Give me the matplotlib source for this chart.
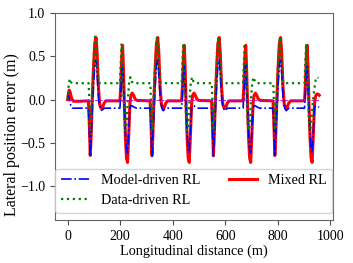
import matplotlib
matplotlib.use("Agg")
import matplotlib.pyplot as plt

plt.rcParams['font.family'] = ['Liberation Serif', 'DejaVu Serif']

# Model-driven RL
model_x = [0, 3, 7, 12, 18, 45,
           79, 82, 86, 89, 94, 99, 104, 108, 112, 118, 124, 129, 134, 140,
           199, 202, 206, 209, 212, 216, 220, 224, 228, 232, 237, 241, 247, 254, 262,
           314, 317, 321, 324, 329, 334, 339, 343, 347, 353, 359, 364, 369, 375,
           434, 437, 441, 444, 447, 451, 455, 459, 463, 467, 472, 476, 482, 489, 497,
           548, 551, 555, 558, 563, 568, 573, 577, 581, 587, 593, 598, 603, 609,
           668, 671, 675, 678, 681, 685, 689, 693, 697, 701, 706, 710, 716, 723, 731,
           782, 785, 789, 792, 797, 802, 807, 811, 815, 821, 827, 832, 837, 843,
           902, 905, 909, 912, 915, 919, 923, 927, 931, 935, 940, 944, 950, 958]
model_y = [0.0, 0.05, 0.0, -0.07, -0.1, -0.1,
           -0.1, -0.3, -0.66, -0.45, -0.1, 0.2, 0.42, 0.46, 0.3, 0.0, -0.1, -0.125, -0.115, -0.1,
           -0.1, 0.05, 0.35, 0.4, 0.2, -0.1, -0.4, -0.58, -0.62, -0.4, -0.1, -0.07, -0.075, -0.09, -0.1,
           -0.1, -0.3, -0.66, -0.45, -0.1, 0.2, 0.42, 0.46, 0.3, 0.0, -0.1, -0.13, -0.115, -0.1,
           -0.1, 0.05, 0.35, 0.4, 0.2, -0.1, -0.4, -0.58, -0.62, -0.4, -0.1, -0.07, -0.075, -0.09, -0.1,
           -0.1, -0.3, -0.66, -0.45, -0.1, 0.2, 0.42, 0.46, 0.3, 0.0, -0.1, -0.13, -0.115, -0.1,
           -0.1, 0.05, 0.35, 0.4, 0.2, -0.1, -0.4, -0.58, -0.62, -0.4, -0.1, -0.07, -0.075, -0.09, -0.1,
           -0.1, -0.3, -0.66, -0.45, -0.1, 0.2, 0.42, 0.46, 0.3, 0.0, -0.1, -0.13, -0.115, -0.1,
           -0.1, 0.05, 0.35, 0.4, 0.2, -0.1, -0.4, -0.58, -0.62, -0.4, -0.1, -0.07, -0.08, -0.09]

# Data-driven RL
data_x = [0, 4, 8, 13, 18, 45,
          80, 82, 84, 86, 89, 94, 100, 105, 108, 112, 117, 121,
          199, 201, 205, 208, 212, 216, 219, 224, 229, 234, 239, 244, 249,
          315, 317, 319, 321, 324, 329, 335, 340, 343, 347, 352, 356,
          434, 436, 440, 443, 447, 451, 454, 459, 464, 469, 474, 479, 484,
          549, 551, 553, 555, 558, 563, 569, 574, 577, 581, 586, 590,
          668, 670, 674, 677, 681, 685, 688, 693, 698, 703, 708, 713, 718,
          783, 785, 787, 789, 792, 797, 803, 808, 811, 815, 820, 824,
          902, 904, 908, 911, 915, 919, 922, 927, 933, 939, 945, 950, 955]
data_y = [0.0, 0.18, 0.24, 0.2, 0.19, 0.19,
          0.19, 0.0, -0.25, -0.36, -0.2, 0.15, 0.5, 0.73, 0.7, 0.45, 0.22, 0.19,
          0.19, 0.35, 0.65, 0.5, 0.1, -0.25, -0.36, -0.3, 0.0, 0.2, 0.26, 0.21, 0.19,
          0.19, 0.0, -0.25, -0.36, -0.2, 0.15, 0.5, 0.73, 0.7, 0.45, 0.22, 0.19,
          0.19, 0.35, 0.65, 0.5, 0.1, -0.25, -0.36, -0.3, 0.0, 0.2, 0.26, 0.21, 0.19,
          0.19, 0.0, -0.25, -0.36, -0.2, 0.15, 0.5, 0.73, 0.7, 0.45, 0.22, 0.19,
          0.19, 0.35, 0.65, 0.5, 0.1, -0.25, -0.36, -0.3, 0.0, 0.2, 0.26, 0.21, 0.19,
          0.19, 0.0, -0.25, -0.36, -0.2, 0.15, 0.5, 0.73, 0.7, 0.45, 0.22, 0.19,
          0.19, 0.35, 0.65, 0.5, 0.1, -0.25, -0.36, -0.3, -0.05, 0.12, 0.24, 0.26, 0.25]

# Mixed RL
mixed_x = [0, 3, 6, 10, 15, 22, 45,
           79, 82, 86, 89, 93, 98, 103, 108, 112, 117, 122, 128, 133, 139, 146,
           199, 202, 206, 209, 212, 216, 220, 224, 228, 232, 237, 241, 246, 251, 257, 264,
           314, 317, 321, 324, 328, 333, 338, 343, 347, 352, 357, 363, 368, 374, 381,
           434, 437, 441, 444, 447, 451, 455, 459, 463, 467, 472, 476, 481, 486, 492, 499,
           548, 551, 555, 558, 562, 567, 572, 577, 581, 586, 591, 597, 602, 608, 615,
           668, 671, 675, 678, 681, 685, 689, 693, 697, 701, 706, 710, 715, 720, 726, 733,
           782, 785, 789, 792, 796, 801, 806, 811, 815, 820, 825, 831, 836, 842, 849,
           902, 905, 909, 912, 915, 919, 923, 927, 931, 935, 940, 944, 949, 955, 958]
mixed_y = [0.0, 0.07, 0.11, 0.08, 0.01, -0.02, -0.02,
           -0.015, -0.25, -0.65, -0.45, -0.05, 0.35, 0.65, 0.72, 0.55, 0.15, -0.06, -0.105, -0.09, -0.04, -0.015,
           -0.015, 0.15, 0.5, 0.63, 0.4, -0.05, -0.45, -0.68, -0.73, -0.45, -0.05, 0.05, 0.075, 0.05, 0.005, -0.01,
           -0.015, -0.25, -0.65, -0.45, -0.05, 0.35, 0.65, 0.72, 0.55, 0.15, -0.06, -0.11, -0.09, -0.04, -0.015,
           -0.015, 0.15, 0.5, 0.63, 0.4, -0.05, -0.45, -0.68, -0.73, -0.45, -0.05, 0.05, 0.075, 0.05, 0.005, -0.01,
           -0.015, -0.25, -0.65, -0.45, -0.05, 0.35, 0.65, 0.72, 0.55, 0.15, -0.06, -0.105, -0.09, -0.04, -0.015,
           -0.015, 0.15, 0.5, 0.63, 0.4, -0.05, -0.45, -0.68, -0.73, -0.45, -0.05, 0.05, 0.075, 0.05, 0.005, -0.01,
           -0.015, -0.25, -0.65, -0.45, -0.05, 0.35, 0.65, 0.72, 0.55, 0.15, -0.06, -0.105, -0.09, -0.04, -0.015,
           -0.015, 0.15, 0.5, 0.63, 0.4, -0.05, -0.45, -0.68, -0.73, -0.45, -0.05, 0.04, 0.065, 0.06, 0.05]

# zero reference
ref_x = [0, 958]
ref_y = [0.0, 0.0]

fig = plt.figure(figsize=(3.53, 2.63), dpi=100)
ax = fig.add_axes([0.156, 0.163, 0.787, 0.786])

ax.plot(model_x, model_y, color='b', linestyle='-.', lw=1.2, label='Model-driven RL', zorder=3)
ax.plot(data_x, data_y, color='g', linestyle=':', lw=1.6, label='Data-driven RL', zorder=3)
ax.plot(mixed_x, mixed_y, color='r', linestyle='-', lw=2.2, label='Mixed RL', zorder=2)
ax.plot(ref_x, ref_y, color='m', linestyle='--', lw=0.6, zorder=4)

ax.set_xlim(-48, 1010)
ax.set_ylim(-1.4, 1.0)
ax.set_yticks([-1.0, -0.5, 0.0, 0.5, 1.0])
ax.set_xticks([0, 200, 400, 600, 800, 1000])
ax.set_xlabel("Longitudinal distance (m)", fontsize=10.3, labelpad=1)
ax.set_ylabel("Lateral position error (m)", fontsize=11.5)
ax.yaxis.set_label_coords(-0.125, 0.413)
ax.tick_params(labelsize=10, color='0.3', length=3.5)
for s in ax.spines.values():
    s.set_color('0.4')

ax.legend(loc='lower center', ncol=2, fontsize=10.2, borderaxespad=0.5)

fig.savefig("out.png", dpi=100)
